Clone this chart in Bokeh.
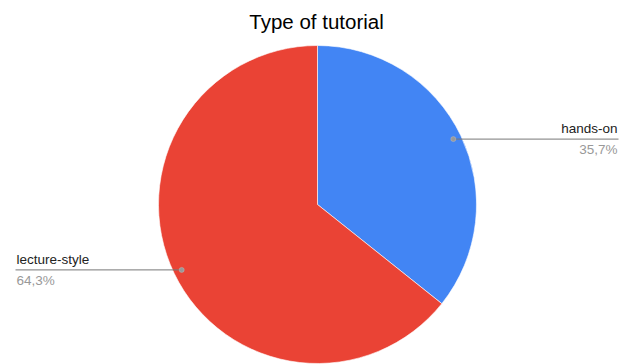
import math
from bokeh.plotting import figure
from bokeh.models import Range1d, ColumnDataSource
from bokeh.core.properties import value
from bokeh.embed import file_html
from bokeh.resources import INLINE

# ---- data ----
categories = ["hands-on", "lecture-style"]
counts = [5, 9]
colors = ["#4285F4", "#EA4335"]
title_text = "Type of tutorial"

# ---- layout (pixel space, y measured downward then flipped) ----
W, H = 628, 364
CX, CY_PX, R = 317, 204, 159
CY = H - CY_PX

total = sum(counts)
fracs = [c / total for c in counts]
starts, ends, mids = [], [], []
acc = 0.0
for f in fracs:
    a0 = math.pi / 2 - 2 * math.pi * acc
    a1 = math.pi / 2 - 2 * math.pi * (acc + f)
    starts.append(a0)
    ends.append(a1)
    mids.append((a0 + a1) / 2)
    acc += f

p = figure(width=W, height=H, output_backend="svg", toolbar_location=None,
           x_range=Range1d(0, W), y_range=Range1d(0, H),
           min_border=0, min_border_left=0, min_border_right=0,
           min_border_top=0, min_border_bottom=0)
p.axis.visible = False
p.grid.visible = False
p.outline_line_color = None
p.background_fill_color = "white"
p.border_fill_color = "white"

src = ColumnDataSource(dict(start=starts, end=ends, color=colors, cat=categories))
p.wedge(x=CX, y=CY, radius=R, start_angle="start", end_angle="end",
        direction="clock", fill_color="color", line_color="white", line_width=0.6,
        source=src)

# title
p.text(x=[316], y=[H - 21], text=[title_text], text_font=value("Liberation Sans"),
       text_font_size="20.5px", text_align="center", text_baseline="middle",
       text_color="#000000")

# labels with leader lines
dot_r = 0.948 * R
for i, cat in enumerate(categories):
    dx = CX + dot_r * math.cos(mids[i])
    dy = CY + dot_r * math.sin(mids[i])
    pct = f"{fracs[i] * 100:.1f}".replace(".", ",") + "%"
    if math.cos(mids[i]) >= 0:
        x_end = 618
        align = "right"
        tx = 617
    else:
        x_end = 15
        align = "left"
        tx = 16
    p.line(x=[dx, x_end], y=[dy, dy], line_color="#777777", line_width=1)
    p.scatter(x=[dx], y=[dy], size=5, fill_color="#999999", line_color="#bbbbbb", line_width=0.5)
    p.text(x=[tx], y=[dy + 3], text=[cat], text_font=value("Liberation Sans"),
           text_font_size="13.5px", text_align=align, text_baseline="bottom",
           text_color="#222222")
    p.text(x=[tx], y=[dy - 3], text=[pct], text_font=value("Liberation Sans"),
           text_font_size="13.5px", text_align=align, text_baseline="top",
           text_color="#999999")

open("out.html", "w").write(file_html(p, INLINE))
